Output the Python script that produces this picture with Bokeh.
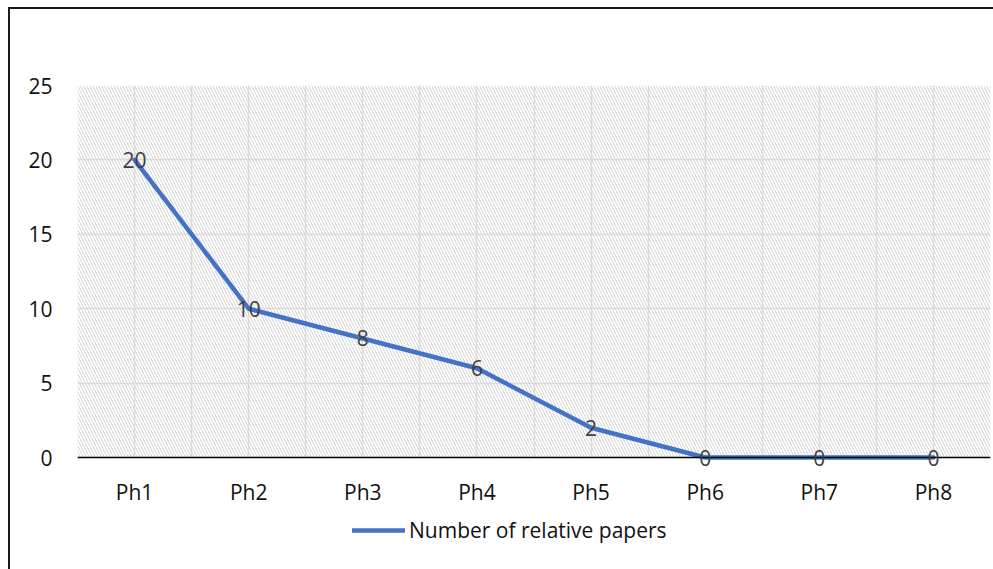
from bokeh.plotting import figure
from bokeh.models import (Range1d, FixedTicker, Legend, LegendItem, BoxAnnotation,
                          ColumnDataSource, LabelSet, Span)
from bokeh.core.properties import value
from bokeh.embed import file_html
from bokeh.resources import INLINE

# Number of relative papers per phase
phases = ["Ph1", "Ph2", "Ph3", "Ph4", "Ph5", "Ph6", "Ph7", "Ph8"]
papers = [20, 10, 8, 6, 2, 0, 0, 0]
y_ticks = [0, 5, 10, 15, 20, 25]

FONT = "Open Sans"
TEXT = "#404040"
AXIS_TEXT = "#111111"
BLUE = "#4472C4"
FS = "21px"

n = len(phases)
xs = [i + 0.5 for i in range(n)]

# the frame runs below zero so the category labels and legend sit inside it
y_top = y_ticks[-1]
plot_h = 372          # pixel height of the 0..25 band
frame_h = 484
y_bottom = -y_top * (frame_h - plot_h) / plot_h

p = figure(frame_width=913, frame_height=frame_h, output_backend="svg",
           toolbar_location=None,
           x_range=Range1d(0, n), y_range=Range1d(y_bottom, y_top),
           min_border_left=67, min_border_top=76, min_border_right=3, min_border_bottom=0,
           margin=(7, 0, 0, 8),
           styles={"border-left": "2px solid #1a1a1a", "border-top": "2px solid #1a1a1a"})
p.outline_line_color = None
p.background_fill_color = "white"
p.border_fill_color = "white"

# grid: horizontal every 5, vertical at category edges and centres
p.ygrid.ticker = FixedTicker(ticks=y_ticks)
p.xgrid.ticker = FixedTicker(ticks=[i * 0.5 for i in range(2 * n + 1)])
for g in (p.xgrid, p.ygrid):
    g.grid_line_color = "#dedede"
    g.grid_line_width = 1.5

# diagonal hatching over the value band only
p.add_layout(BoxAnnotation(bottom=0, fill_alpha=0, line_alpha=0, hatch_pattern="\\",
                           hatch_color="#d4d4d4", hatch_scale=6, hatch_weight=1,
                           level="underlay"))
# blank out the grid beneath the category axis
p.add_layout(BoxAnnotation(top=0, fill_color="white", fill_alpha=1, line_alpha=0,
                           level="underlay"))

# category axis: baseline at zero plus phase labels
p.xaxis.visible = False
p.add_layout(Span(location=0, dimension="width", line_color="#000000", line_width=1.5,
                  level="glyph"))
cat_src = ColumnDataSource(dict(x=xs, y=[0] * n, t=phases))
p.add_layout(LabelSet(x="x", y="y", text="t", source=cat_src, y_offset=-34,
                      text_align="center", text_baseline="middle",
                      text_font=value(FONT), text_font_size=FS, text_color=AXIS_TEXT))

p.yaxis.ticker = FixedTicker(ticks=y_ticks)
p.yaxis.axis_line_color = None
p.yaxis.major_label_standoff = 19
p.yaxis.major_tick_line_color = None
p.yaxis.minor_tick_line_color = None
p.yaxis.major_label_text_font = FONT
p.yaxis.major_label_text_font_size = FS
p.yaxis.major_label_text_color = AXIS_TEXT

line = p.line(xs, papers, line_color=BLUE, line_width=4.5, line_cap="round",
              line_join="round")

# data labels centred on each point
src = ColumnDataSource(dict(x=xs, y=papers, t=[str(v) for v in papers]))
p.add_layout(LabelSet(x="x", y="y", text="t", source=src, text_align="center",
                      text_baseline="middle", text_font=value(FONT), text_font_size=FS,
                      text_color=TEXT))

legend = Legend(items=[LegendItem(label="Number of relative papers", renderers=[line])],
                location=(275, 25), orientation="horizontal",
                glyph_width=53, glyph_height=20, label_standoff=4,
                padding=0, margin=0, border_line_color=None,
                background_fill_alpha=0,
                label_text_font=FONT, label_text_font_size=FS,
                label_text_color=AXIS_TEXT)
p.add_layout(legend, "center")

open("out.html", "w").write(file_html(p, INLINE))
